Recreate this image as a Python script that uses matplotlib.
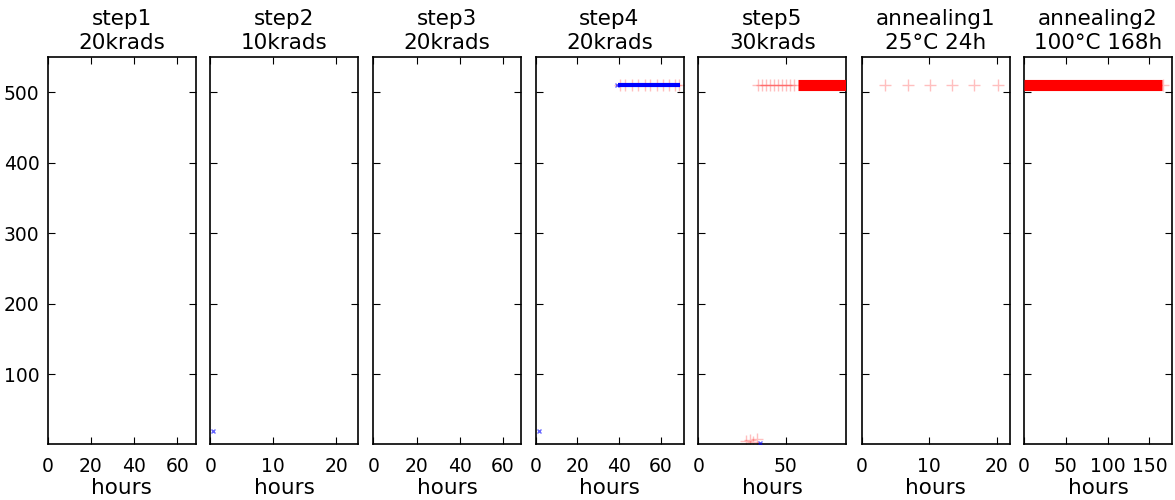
import matplotlib
matplotlib.use("Agg")
import matplotlib.pyplot as plt

# ---- data ----
titles = ["step1\n20krads", "step2\n10krads", "step3\n20krads", "step4\n20krads",
          "step5\n30krads", "annealing1\n25°C 24h", "annealing2\n100°C 168h"]
x_max = [68.5, 23.5, 68.5, 71.0, 84.5, 21.9, 177.0]
x_ticks = [[0, 20, 40, 60], [0, 10, 20], [0, 20, 40, 60], [0, 20, 40, 60],
           [0, 50], [0, 10, 20], [0, 50, 100, 150]]
y_ticks = [100, 200, 300, 400, 500]

# sparse red '+' measurements (hours, value) per panel
red_x = [[], [], [],
         [40.5, 43.0, 46.2, 49.1, 52.3, 55.0, 58.1, 61.2, 64.0, 66.8, 69.0],
         [34.0, 36.5, 38.8, 41.0, 43.3, 45.5, 47.7, 50.0, 52.3, 54.6, 27.0, 29.5, 31.5, 33.5],
         [3.5, 6.9, 10.1, 13.4, 16.6, 20.1],
         [166.5]]
red_y = [[], [], [],
         [510] * 11,
         [510] * 10 + [5, 7, 4, 8],
         [510] * 6,
         [510]]
# dense red runs (start hour, end hour, value)
red_run_start = [None, None, None, None, 57.0, None, 0.0]
red_run_end = [None, None, None, None, 84.5, None, 165.0]
red_run_y = [None, None, None, None, 510, None, 510]

# blue 'x' measurements
blue_x = [[], [0.5], [], [1.8, 39.0], [35.0], [], []]
blue_y = [[], [20], [], [20, 510], [2], [], []]
# dense blue runs
blue_run_start = [None, None, None, 39.5, None, None, None]
blue_run_end = [None, None, None, 69.5, None, None, None]
blue_run_y = [None, None, None, 510, None, None, None]

# ---- figure ----
fig = plt.figure(figsize=(11.75, 5), dpi=100)
lefts_px = [47.7, 210.3, 373.3, 535.5, 698.3, 861.7, 1024.0]
W, H = 1175.0, 500.0
ax_w = 148.0 / W
ax_b = (H - 444.0) / H
ax_h = (444.0 - 57.0) / H

for i in range(7):
    ax = fig.add_axes([lefts_px[i] / W, ax_b, ax_w, ax_h])
    if red_run_start[i] is not None:
        ax.plot([red_run_start[i], red_run_end[i]], [red_run_y[i], red_run_y[i]],
                color="red", lw=8, solid_capstyle="butt", zorder=3)
    if red_x[i]:
        ax.plot(red_x[i], red_y[i], linestyle="none", marker="+", markersize=9,
                color="red", alpha=0.25, zorder=2)
    if blue_run_start[i] is not None:
        ax.plot([blue_run_start[i], blue_run_end[i]], [blue_run_y[i], blue_run_y[i]],
                color="blue", lw=3, solid_capstyle="butt", zorder=4)
    if blue_x[i]:
        ax.plot(blue_x[i], blue_y[i], linestyle="none", marker="x", markersize=3,
                color="blue", alpha=0.6, zorder=5)
    ax.set_xlim(0, x_max[i])
    ax.set_ylim(1, 550)
    ax.set_xticks(x_ticks[i])
    ax.set_yticks(y_ticks)
    ax.tick_params(direction="in", top=True, right=True, length=5, width=0.8,
                   labelsize=13.5, pad=6)
    ax.tick_params(axis="x", pad=9)
    if i > 0:
        ax.tick_params(labelleft=False)
    ax.set_title(titles[i], fontsize=15.5, linespacing=1.25, pad=6)
    ax.set_xlabel("hours", fontsize=15.5, labelpad=2)
    for s in ax.spines.values():
        s.set_linewidth(1.2)

fig.savefig("out.png", dpi=100)
